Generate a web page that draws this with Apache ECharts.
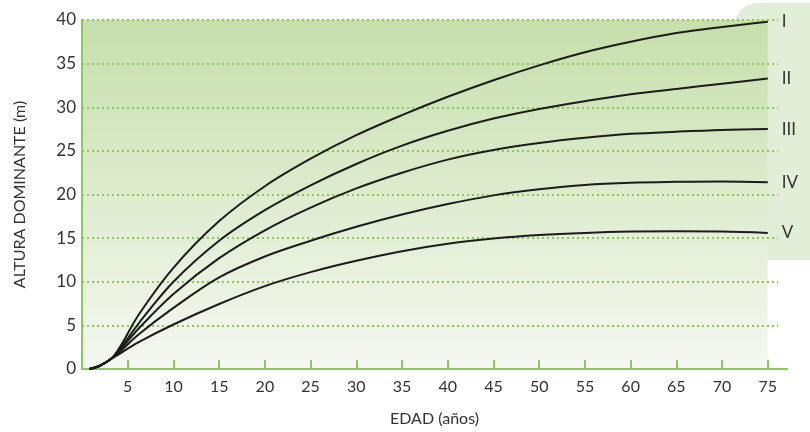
<!DOCTYPE html>
<html><head><meta charset="utf-8">
<script src="https://cdn.jsdelivr.net/npm/echarts@6/dist/echarts.min.js"></script>
<style>html,body{margin:0;padding:0;background:#fff}#c{width:810px;height:432px}</style>
</head><body><div id="c"></div>
<script>
const ages     = [0.8, 2, 3.5, 6.25, 10, 15, 20, 25, 30, 35, 40, 45, 50, 55, 60, 65, 70, 75];
const curveI   = [0, 0.4, 1.5, 6.3, 11.6, 16.95, 20.95, 24.1, 26.8, 29.1, 31.2, 33.1, 34.8, 36.3, 37.5, 38.5, 39.2, 39.8];
const curveII  = [0, 0.4, 1.5, 5.3, 10.0, 14.7, 18.2, 21.05, 23.5, 25.6, 27.3, 28.7, 29.8, 30.7, 31.5, 32.1, 32.7, 33.3];
const curveIII = [0, 0.4, 1.45, 4.7, 8.6, 12.7, 15.9, 18.5, 20.7, 22.5, 24.0, 25.1, 25.9, 26.5, 26.95, 27.2, 27.4, 27.5];
const curveIV  = [0, 0.4, 1.4, 4.0, 7.0, 10.5, 12.9, 14.7, 16.3, 17.7, 18.9, 19.9, 20.6, 21.1, 21.35, 21.45, 21.5, 21.4];
const curveV   = [0, 0.4, 1.35, 3.1, 5.1, 7.45, 9.5, 11.1, 12.4, 13.5, 14.35, 14.95, 15.35, 15.6, 15.75, 15.8, 15.75, 15.6];
const seriesNames = ['I', 'II', 'III', 'IV', 'V'];
const xTicks = [5, 10, 15, 20, 25, 30, 35, 40, 45, 50, 55, 60, 65, 70, 75];
const yTicks = [0, 5, 10, 15, 20, 25, 30, 35, 40];

const curves = [curveI, curveII, curveIII, curveIV, curveV];
const chart = echarts.init(document.getElementById('c'));
const green = '#8cc85a';
const font = 'Lato';
const series = curves.map((c, i) => ({
  type: 'line',
  name: seriesNames[i],
  data: ages.map((a, j) => [a, c[j]]),
  smooth: 0.35,
  showSymbol: false,
  symbol: 'none',
  z: 5,
  lineStyle: { color: '#1c1c1c', width: 2 },
  endLabel: { show: true, formatter: seriesNames[i], distance: 14, color: '#333', fontSize: 17, fontFamily: font }
}));
// background gradient of the plot area
series.unshift({
  type: 'line', data: [], z: -2, silent: true,
  markArea: {
    silent: true, z: -2,
    itemStyle: { color: new echarts.graphic.LinearGradient(0, 0, 0, 1, [
      { offset: 0, color: '#c6dfab' }, { offset: 1, color: '#f5f8f1' }]) },
    data: [[{ coord: [0, 40] }, { coord: [75, 0] }]]
  }
});
// dotted horizontal grid lines
series.unshift({
  type: 'line', data: [], z: 1, silent: true,
  markLine: {
    silent: true, z: 1, symbol: 'none', label: { show: false },
    lineStyle: { color: green, width: 2, type: [2, 3] },
    data: yTicks.filter(v => v > 0).map(v => [{ coord: [0, v] }, { coord: [76.1, v] }])
  }
});

chart.setOption({
  animation: false,
  backgroundColor: '#fff',
  graphic: [{
    type: 'rect', z: -10, silent: true,
    shape: { x: 735, y: 3, width: 100, height: 257, r: 22 },
    style: { fill: '#e2eed8' }
  }],
  grid: { left: 82, right: 23, top: 20, bottom: 61, containLabel: false },
  xAxis: {
    type: 'value', min: 0, max: 77.1, interval: 5, z: 3,
    name: 'EDAD (años)', nameLocation: 'middle', nameGap: 42,
    nameTextStyle: { color: '#333', fontSize: 16, fontFamily: font },
    axisLine: { show: true, lineStyle: { color: green, width: 2 } },
    axisTick: { show: true, inside: true, length: 9, customValues: xTicks, lineStyle: { color: green, width: 2 } },
    axisLabel: { customValues: xTicks, color: '#333', fontSize: 16, fontFamily: font, margin: 10 },
    splitLine: { show: false }
  },
  yAxis: {
    type: 'value', min: 0, max: 40, interval: 5, z: 3,
    name: 'ALTURA DOMINANTE (m)', nameLocation: 'middle', nameGap: 54,
    nameTextStyle: { color: '#333', fontSize: 16, fontFamily: font },
    axisLine: { show: true, lineStyle: { color: green, width: 2 } },
    axisTick: { show: false },
    axisLabel: { customValues: yTicks, color: '#333', fontSize: 17, fontFamily: font, margin: 6 },
    splitLine: { show: false }
  },
  series
});
</script></body></html>
